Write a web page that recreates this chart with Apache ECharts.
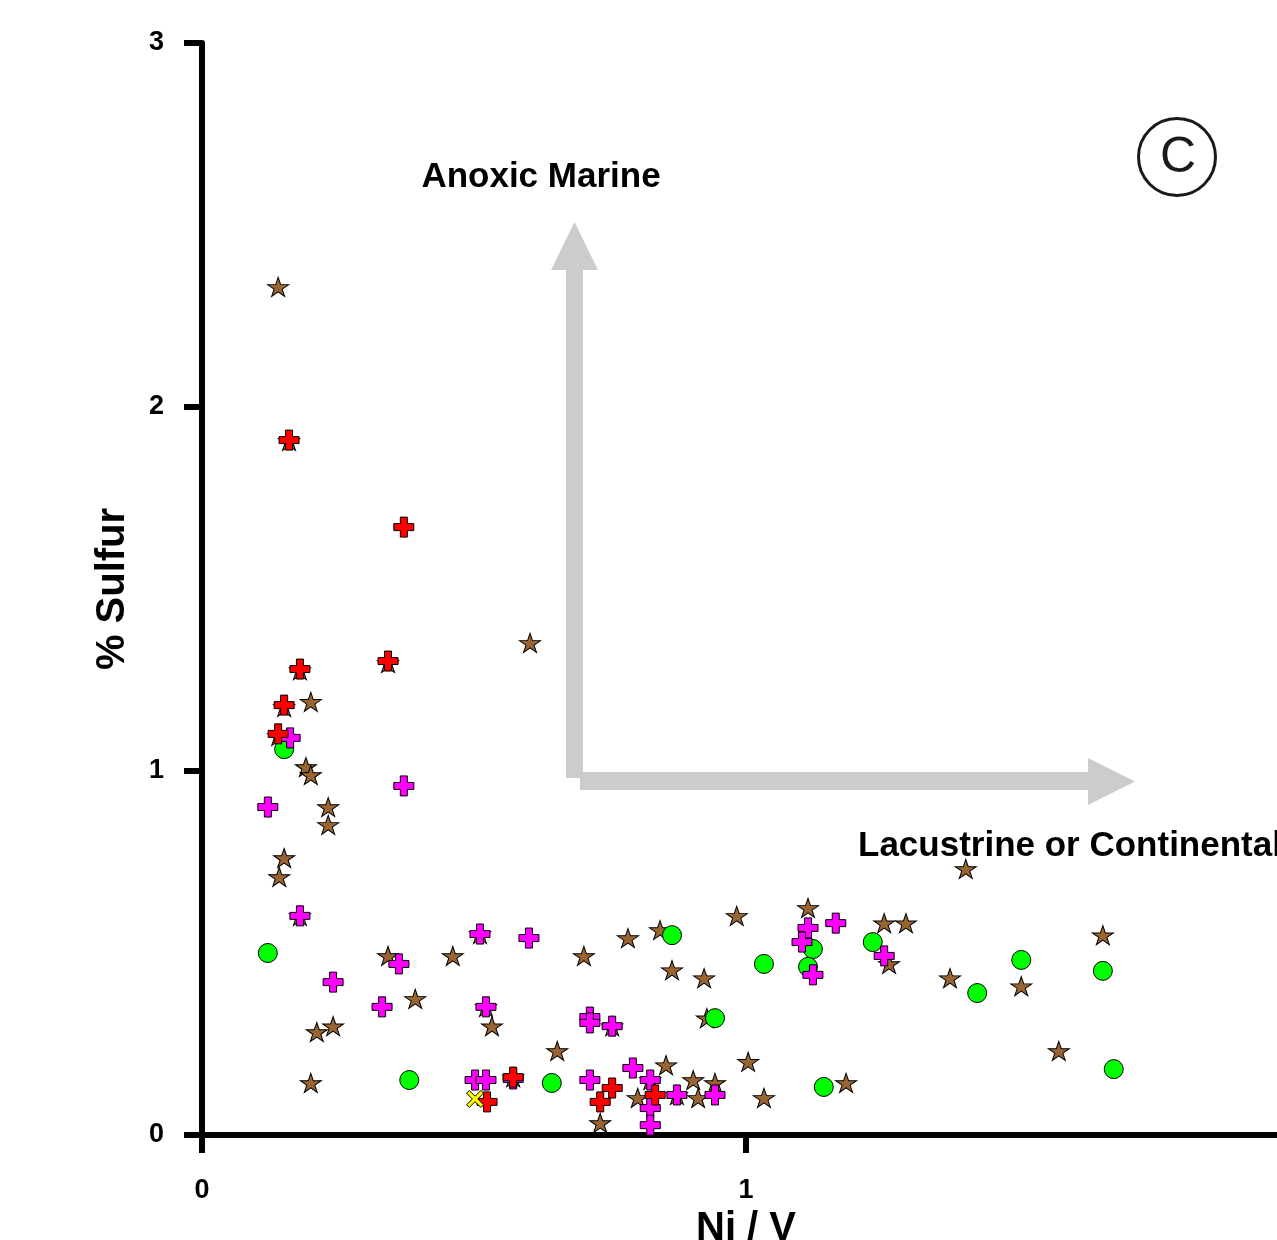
<!DOCTYPE html>
<html>
<head>
<meta charset="utf-8">
<script src="https://cdn.jsdelivr.net/npm/echarts@6/dist/echarts.min.js"></script>
<style>
html,body{margin:0;padding:0;background:#fff;overflow:hidden;}
#chart{width:1277px;height:1240px;}
</style>
</head>
<body>
<div id="chart"></div>
<script>
// ---- data (Ni/V, % Sulfur) ----
var xTicks = [0, 1, 2];
var yTicks = [0, 1, 2, 3];
var starPoints = [
  [0.140,2.330],[0.160,1.907],[0.603,1.352],[0.180,1.277],[0.342,1.297],[0.200,1.190],
  [0.151,1.176],[0.140,1.096],[0.191,1.011],[0.200,0.989],[0.232,0.901],[0.232,0.852],
  [0.151,0.761],[0.142,0.709],[0.180,0.602],[0.342,0.492],[0.461,0.492],[0.511,0.552],
  [0.392,0.374],[0.522,0.352],[0.533,0.299],[0.211,0.283],[0.241,0.299],[0.200,0.143],
  [0.572,0.159],[0.702,0.492],[0.783,0.541],[0.842,0.563],[0.983,0.602],[0.864,0.453],
  [0.923,0.431],[0.754,0.299],[0.928,0.321],[0.653,0.231],[0.853,0.192],[1.004,0.201],
  [0.801,0.102],[0.824,0.151],[0.873,0.110],[0.903,0.151],[0.912,0.102],[0.943,0.143],
  [1.033,0.102],[0.732,0.033],[1.114,0.624],[1.254,0.582],[1.294,0.582],[1.263,0.470],
  [1.375,0.431],[1.184,0.143],[1.404,0.731],[1.656,0.549],[1.506,0.409],[1.575,0.231]
];
var redPoints = [
  [0.160,1.909],[0.371,1.670],[0.180,1.280],[0.342,1.302],[0.151,1.181],[0.140,1.102],
  [0.572,0.159],[0.524,0.091],[0.754,0.129],[0.833,0.110],[0.732,0.091]
];
var magentaPoints = [
  [0.162,1.091],[0.121,0.901],[0.371,0.959],[0.180,0.602],[0.511,0.552],[0.601,0.541],
  [0.362,0.470],[0.241,0.420],[0.331,0.352],[0.522,0.352],[0.713,0.324],[0.713,0.308],
  [0.754,0.299],[0.502,0.151],[0.522,0.151],[0.572,0.154],[0.713,0.151],[0.792,0.184],
  [0.824,0.151],[0.873,0.110],[0.943,0.110],[0.824,0.074],[0.824,0.027],[1.114,0.569],
  [1.165,0.582],[1.103,0.530],[1.123,0.440],[1.254,0.492]
];
var greenPoints = [
  [0.151,1.060],[0.121,0.500],[0.381,0.151],[0.643,0.143],[0.864,0.549],[0.943,0.321],
  [1.033,0.470],[1.123,0.511],[1.114,0.462],[1.233,0.530],[1.143,0.132],[1.506,0.481],
  [1.656,0.451],[1.425,0.390],[1.676,0.181]
];
var yellowPoints = [[0.502,0.099]];
var labelAnoxic = 'Anoxic Marine';
var labelLacustrine = 'Lacustrine or Continental';
var panelLetter = 'C';

var FONT = '"Liberation Sans", Arial, Helvetica, sans-serif';
var starPath = 'path://M10,0 L12.245,6.910 L19.511,6.910 L13.633,11.180 L15.878,18.090 L10,13.82 L4.122,18.090 L6.367,11.180 L0.489,6.910 L7.755,6.910 Z';
var plusPath = 'path://M3.25,0 H6.75 V3.25 H10 V6.75 H6.75 V10 H3.25 V6.75 H0 V3.25 H3.25 Z';
var xPath = 'path://M0,1.6 L1.6,0 L5,3.4 L8.4,0 L10,1.6 L6.6,5 L10,8.4 L8.4,10 L5,6.6 L1.6,10 L0,8.4 L3.4,5 Z';

function scatter(name, data, symbol, size, color, z) {
  return {
    name: name, type: 'scatter', data: data, symbol: symbol, symbolSize: size,
    symbolKeepAspect: true, z: z,
    itemStyle: {color: color, borderColor: '#000', borderWidth: 1, opacity: 1},
    emphasis: {disabled: true}, silent: true
  };
}

var chart = echarts.init(document.getElementById('chart'), null, {renderer: 'canvas'});
var axisCommon = {
  type: 'value', splitLine: {show: false},
  axisLine: {show: true, onZero: false, lineStyle: {color: '#000', width: 6}},
  axisTick: {show: true, inside: false, length: 18, lineStyle: {color: '#000', width: 6}},
  nameTextStyle: {color: '#000', fontSize: 40, fontWeight: 'bold', fontFamily: FONT}
};
chart.setOption({
  animation: false,
  backgroundColor: '#fff',
  grid: {left: 202, top: 43, width: 1088, height: 1092, containLabel: false, outerBoundsMode: 'none'},
  xAxis: Object.assign({}, axisCommon, {
    min: xTicks[0], max: xTicks[xTicks.length - 1], interval: 1,
    axisLabel: {color: '#000', fontSize: 27, fontWeight: 'bold', fontFamily: FONT, margin: 42},
    name: 'Ni / V', nameLocation: 'middle', nameGap: 71
  }),
  yAxis: Object.assign({}, axisCommon, {
    min: yTicks[0], max: yTicks[yTicks.length - 1], interval: 1,
    axisLabel: {color: '#000', fontSize: 27, fontWeight: 'bold', fontFamily: FONT, margin: 38, padding: [7, 0, 0, 0]},
    name: '% Sulfur', nameLocation: 'middle', nameGap: 69
  }),
  graphic: [
    {type: 'rect', shape: {x: 566, y: 268, width: 17, height: 510}, style: {fill: '#cccccc'}, z: 1},
    {type: 'polygon', shape: {points: [[551, 270], [598, 270], [574.5, 222]]}, style: {fill: '#cccccc'}, z: 1},
    {type: 'rect', shape: {x: 580, y: 772, width: 510, height: 18}, style: {fill: '#cccccc'}, z: 1},
    {type: 'polygon', shape: {points: [[1088, 758], [1088, 805], [1135, 781.5]]}, style: {fill: '#cccccc'}, z: 1},
    {type: 'text', x: 541, y: 177, style: {text: labelAnoxic, fill: '#000', font: 'bold 35px ' + FONT, textAlign: 'center', textVerticalAlign: 'middle'}, z: 5},
    {type: 'text', x: 858, y: 846, style: {text: labelLacustrine, fill: '#000', font: 'bold 35px ' + FONT, textAlign: 'left', textVerticalAlign: 'middle'}, z: 5},
    {type: 'circle', shape: {cx: 1177, cy: 157, r: 38.5}, style: {fill: 'none', stroke: '#1a1a1a', lineWidth: 3}, z: 5},
    {type: 'text', x: 1178, y: 158, style: {text: panelLetter, fill: '#1a1a1a', font: '50px ' + FONT, textAlign: 'center', textVerticalAlign: 'middle'}, z: 5}
  ],
  series: [
    scatter('stars', starPoints, starPath, [21, 20], '#996633', 2),
    scatter('green', greenPoints, 'circle', 19, '#00ff00', 3),
    scatter('magenta', magentaPoints, plusPath, 20, '#ff00ff', 4),
    scatter('red', redPoints, plusPath, 20, '#ff0000', 5),
    scatter('yellow', yellowPoints, xPath, 17, '#ffff00', 6)
  ]
});
</script>
</body>
</html>
